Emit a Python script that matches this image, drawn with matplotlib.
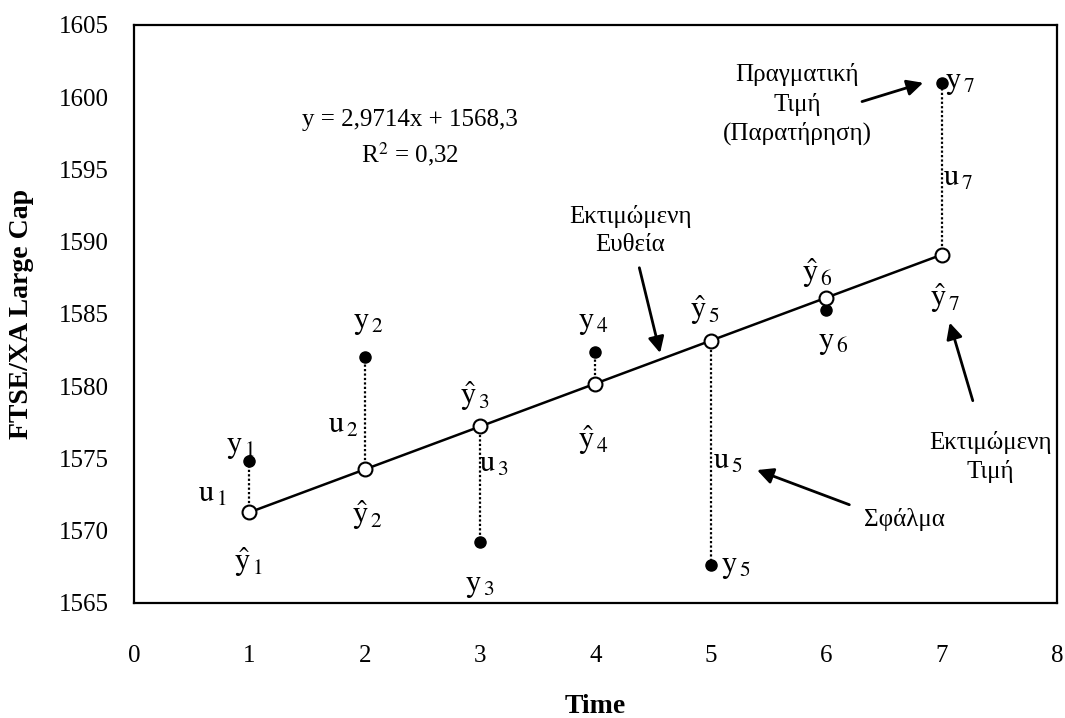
import numpy as np
import matplotlib.pyplot as plt

plt.rcParams['font.family'] = ['Liberation Serif', 'DejaVu Serif']
plt.rcParams['mathtext.fontset'] = 'stix'

# observations and fitted trend
t = [1, 2, 3, 4, 5, 6, 7]
y_obs = [1574.8, 1582.0, 1569.2, 1582.4, 1567.6, 1585.3, 1601.0]
slope = 2.9714
intercept = 1568.3
y_fit = [slope*v + intercept for v in t]

x_ticks = [0, 1, 2, 3, 4, 5, 6, 7, 8]
y_ticks = [1565, 1570, 1575, 1580, 1585, 1590, 1595, 1600, 1605]

fig = plt.figure(figsize=(10.65, 7.18), dpi=100)
ax = fig.add_axes([0.1258, 0.1602, 0.8667, 0.805])

# residual segments
for xi, yo, yf in zip(t, y_obs, y_fit):
    ax.plot([xi, xi], [yf, yo], color='black', linestyle=(0, (1, 1)), linewidth=1.6, zorder=2)

ax.plot(t, y_fit, color='black', linewidth=1.8, zorder=3)
ax.plot(t, y_obs, linestyle='none', marker='o', markersize=8, color='black', zorder=4)
ax.plot(t, y_fit, linestyle='none', marker='o', markersize=10, markerfacecolor='white',
        markeredgecolor='black', markeredgewidth=1.5, zorder=5)

ax.set_xlim(0, 8)
ax.set_ylim(1565, 1605)
ax.set_xticks(x_ticks)
ax.set_yticks(y_ticks)
ax.tick_params(length=0, labelsize=18)
ax.tick_params(axis='x', pad=30)
ax.tick_params(axis='y', pad=18)
for s in ax.spines.values():
    s.set_linewidth(1.6)

ax.set_xlabel('Time', fontsize=20, fontweight='bold', labelpad=20)
ax.set_ylabel('FTSE/XA Large Cap', fontsize=20, fontweight='bold', labelpad=18)

fs = 22
def lab(x, y, s):
    ax.text(x, y, s, fontsize=fs, ha='center', va='center')

# observed values
lab(0.92, 1575.8, r'$\mathrm{y}_{\,1}$')
lab(2.03, 1584.4, r'$\mathrm{y}_{\,2}$')
lab(3.00, 1566.2, r'$\mathrm{y}_{\,3}$')
lab(3.98, 1584.4, r'$\mathrm{y}_{\,4}$')
lab(5.22, 1567.5, r'$\mathrm{y}_{\,5}$')
lab(6.06, 1583.0, r'$\mathrm{y}_{\,6}$')
lab(7.16, 1601.0, r'$\mathrm{y}_{\,7}$')

# fitted values
lab(0.99, 1567.8, r'$\hat{\mathrm{y}}_{\,1}$')
lab(2.02, 1571.1, r'$\hat{\mathrm{y}}_{\,2}$')
lab(2.95, 1579.3, r'$\hat{\mathrm{y}}_{\,3}$')
lab(3.98, 1576.3, r'$\hat{\mathrm{y}}_{\,4}$')
lab(4.95, 1585.3, r'$\hat{\mathrm{y}}_{\,5}$')
lab(5.92, 1587.8, r'$\hat{\mathrm{y}}_{\,6}$')
lab(7.03, 1586.1, r'$\hat{\mathrm{y}}_{\,7}$')

# residuals
lab(0.68, 1572.5, r'$\mathrm{u}_{\,1}$')
lab(1.81, 1577.3, r'$\mathrm{u}_{\,2}$')
lab(3.12, 1574.6, r'$\mathrm{u}_{\,3}$')
lab(5.15, 1574.8, r'$\mathrm{u}_{\,5}$')
lab(7.14, 1594.4, r'$\mathrm{u}_{\,7}$')

ax.text(2.39, 1598.4, 'y = 2,9714x + 1568,3', fontsize=18, ha='center', va='center')
ax.text(2.39, 1596.1, r'R$^2$ = 0,32', fontsize=18, ha='center', va='center')

arrow = dict(arrowstyle='-|>', color='black', lw=2, mutation_scale=24, shrinkA=0, shrinkB=0)
ax.annotate('', xy=(6.84, 1601.0), xytext=(6.31, 1599.7), arrowprops=arrow)
ax.text(5.75, 1599.5, 'Πραγματική\nΤιμή\n(Παρατήρηση)', fontsize=18, ha='center', va='center',
        linespacing=1.35)

ax.annotate('', xy=(4.56, 1582.3), xytext=(4.38, 1588.2), arrowprops=arrow)
ax.text(4.30, 1590.8, 'Εκτιμώμενη\nΕυθεία', fontsize=18, ha='center', va='center', linespacing=1.35)

ax.annotate('', xy=(7.07, 1584.4), xytext=(7.27, 1579.0), arrowprops=arrow)
ax.text(7.42, 1575.1, 'Εκτιμώμενη\nΤιμή', fontsize=18, ha='center', va='center', linespacing=1.35)

ax.annotate('', xy=(5.40, 1574.2), xytext=(6.2, 1571.8), arrowprops=arrow)
ax.text(6.68, 1570.8, 'Σφάλμα', fontsize=18, ha='center', va='center')

fig.savefig('out.png', dpi=100)
